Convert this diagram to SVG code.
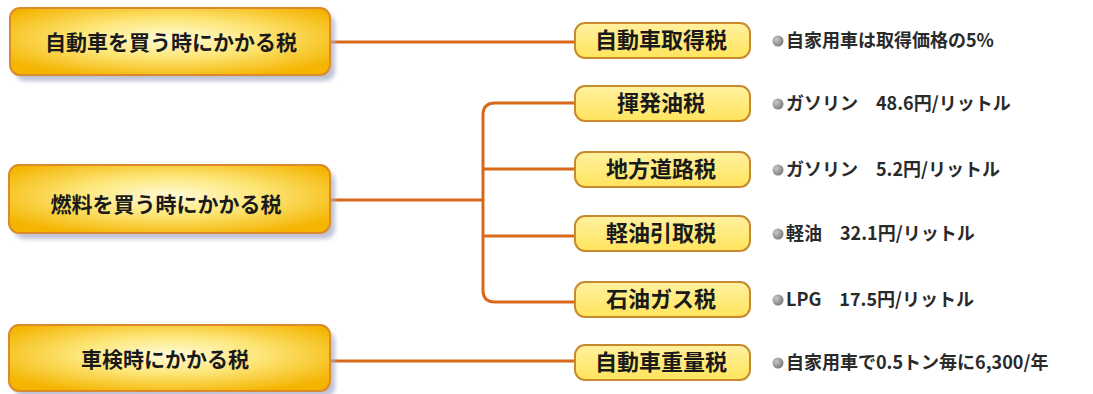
<svg xmlns="http://www.w3.org/2000/svg" width="1093" height="394" viewBox="0 0 1093 394">
<defs>
<radialGradient id="gbox" cx="0.5" cy="0.45" r="0.62">
<stop offset="0" stop-color="#fffbd8"/>
<stop offset="0.45" stop-color="#fde77a"/>
<stop offset="1" stop-color="#f4b400"/>
</radialGradient>
<linearGradient id="gpill" x1="0" y1="0" x2="0" y2="1">
<stop offset="0" stop-color="#fff1a0"/>
<stop offset="1" stop-color="#ffe45c"/>
</linearGradient>
<radialGradient id="gdot" cx="0.35" cy="0.35" r="0.7">
<stop offset="0" stop-color="#c8c8c8"/>
<stop offset="1" stop-color="#7a7a7a"/>
</radialGradient>
<filter id="blur" x="-10%" y="-20%" width="120%" height="140%"><feGaussianBlur stdDeviation="2"/></filter>
</defs>
<style>
.shadow{fill:#a9afc8;opacity:0.75}
.box{fill:url(#gbox);stroke:#dc8a2c;stroke-width:2}
.pill{fill:url(#gpill);stroke:#c98a2e;stroke-width:2}
.conn{fill:none;stroke:#d9691a;stroke-width:3}
.bt{font-family:"Noto Sans CJK JP","Noto Sans",sans-serif;font-weight:bold;font-size:21px;fill:#1a1a1a;text-anchor:middle}
.pt{font-family:"Noto Sans CJK JP","Noto Sans",sans-serif;font-weight:bold;font-size:22px;fill:#1a1a1a;text-anchor:middle}
.dt{font-family:"Noto Sans CJK JP","Noto Sans",sans-serif;font-weight:bold;font-size:18px;fill:#2a2a2a}
.dot{fill:url(#gdot)}
</style>
<rect width="1093" height="394" fill="#ffffff"/>
<g id="connectors">
<path class="conn" d="M330,42 H577"/>
<path class="conn" d="M330,200 H483"/>
<path class="conn" d="M577,103 H495 Q483,103 483,115 V290 Q483,302 495,302 H577"/>
<path class="conn" d="M483,169 H577"/>
<path class="conn" d="M483,236 H577"/>
<path class="conn" d="M330,361 H577"/>
</g>
<g id="box1">
<rect class="shadow" x="15" y="14" width="320" height="67" rx="10" filter="url(#blur)"/>
<rect class="box" x="10" y="8" width="320" height="67" rx="10"/>
<text class="bt" x="171" y="50">自動車を買う時にかかる税</text>
</g>
<g id="box2">
<rect class="shadow" x="14" y="171" width="321" height="68" rx="10" filter="url(#blur)"/>
<rect class="box" x="9" y="165" width="321" height="68" rx="10"/>
<text class="bt" x="166" y="212">燃料を買う時にかかる税</text>
</g>
<g id="box3">
<rect class="shadow" x="14" y="331" width="321" height="66" rx="10" filter="url(#blur)"/>
<rect class="box" x="9" y="325" width="321" height="66" rx="10"/>
<text class="bt" x="165" y="367">車検時にかかる税</text>
</g>
<g id="p1">
<rect class="pill" x="575" y="23" width="175" height="35" rx="10"/>
<text class="pt" x="661" y="48">自動車取得税</text>
<circle class="dot" cx="778" cy="41" r="5.5"/>
<text class="dt" x="786" y="47">自家用車は取得価格の5%</text>
</g>
<g id="p2">
<rect class="pill" x="575" y="86" width="175" height="35" rx="10"/>
<text class="pt" x="661" y="111">揮発油税</text>
<circle class="dot" cx="778" cy="104" r="5.5"/>
<text class="dt" x="786" y="110" xml:space="preserve">ガソリン　48.6円/リットル</text>
</g>
<g id="p3">
<rect class="pill" x="575" y="152" width="175" height="35" rx="10"/>
<text class="pt" x="661" y="177">地方道路税</text>
<circle class="dot" cx="778" cy="170" r="5.5"/>
<text class="dt" x="786" y="176" xml:space="preserve">ガソリン　5.2円/リットル</text>
</g>
<g id="p4">
<rect class="pill" x="575" y="216" width="175" height="35" rx="10"/>
<text class="pt" x="661" y="241">軽油引取税</text>
<circle class="dot" cx="778" cy="234" r="5.5"/>
<text class="dt" x="786" y="240" xml:space="preserve">軽油　32.1円/リットル</text>
</g>
<g id="p5">
<rect class="pill" x="575" y="282" width="175" height="35" rx="10"/>
<text class="pt" x="661" y="307">石油ガス税</text>
<circle class="dot" cx="778" cy="300" r="5.5"/>
<text class="dt" x="786" y="306" xml:space="preserve">LPG　17.5円/リットル</text>
</g>
<g id="p6">
<rect class="pill" x="575" y="345" width="175" height="35" rx="10"/>
<text class="pt" x="661" y="370">自動車重量税</text>
<circle class="dot" cx="778" cy="363" r="5.5"/>
<text class="dt" x="786" y="369">自家用車で0.5トン毎に6,300/年</text>
</g>
</svg>
